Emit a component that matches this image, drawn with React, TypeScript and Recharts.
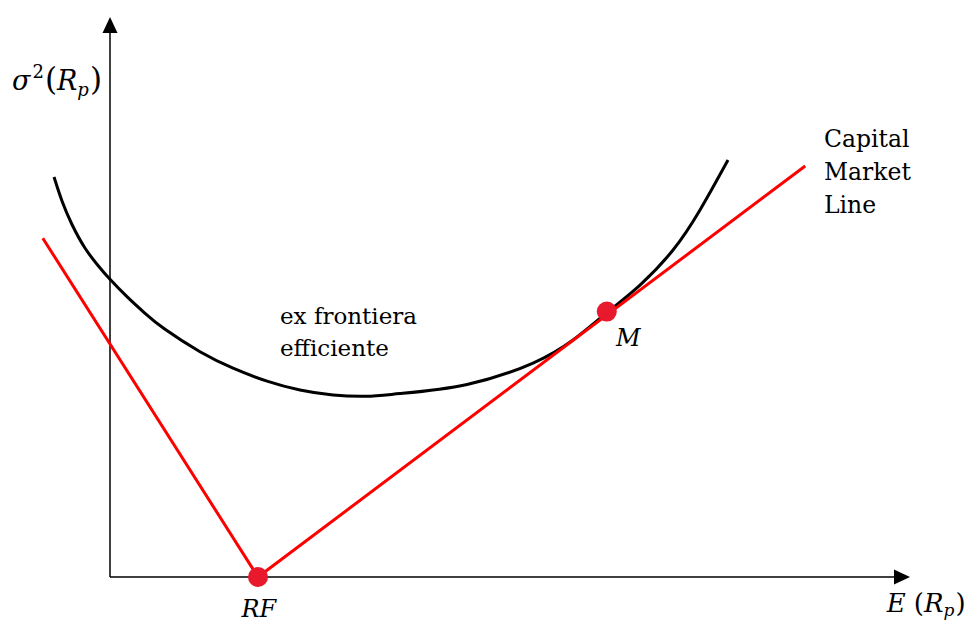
import React from 'react';
import { ComposedChart, Line, Scatter, XAxis, YAxis, ReferenceLine, ReferenceDot } from 'recharts';

// units: E(Rp) on x, sigma^2(Rp) on y, 0 at the corner of the axes, 100 at the arrow tips
const frontierReturn = [-7.0, -6.0, -4.75, -3.13, -1.5, 0, 2.25, 4.38, 6.88, 11.25, 15.38, 19.63, 23.75, 27.88, 32, 36.25, 44.63, 52.88, 57.88, 62.13, 66.25, 70.38, 73.75, 77.25];
const frontierVariance = [71.43, 67.14, 62.95, 58.75, 55.63, 53.16, 49.88, 47.09, 44.23, 40.23, 37.29, 34.98, 33.39, 32.5, 32.27, 32.75, 34.38, 38.21, 42.32, 47.23, 52.14, 58.39, 65.54, 74.46];

const cmlReturn = [-8.4, 18.5, 86.9];
const cmlVariance = [60.5, 0, 73.4];

const pointNames = ['RF', 'M'];
const pointReturn = [18.5, 62.1];
const pointVariance = [0, 47.4];

const frontier = frontierReturn.map((x, i) => ({ x, y: frontierVariance[i] }));
const cml = cmlReturn.map((x, i) => ({ x, y: cmlVariance[i] }));
const points = pointNames.map((name, i) => ({ name, x: pointReturn[i], y: pointVariance[i] }));

const RED = '#ff0000';
const DOT = '#e8192c';
const FONT = 'DejaVu Serif';

const AxisArrow = (props: any) => {
  const { x1, y1, x2, y2 } = props;
  const a = Math.atan2(y2 - y1, x2 - x1);
  const len = 16;
  const half = 7.5;
  const bx = x2 - len * Math.cos(a);
  const by = y2 - len * Math.sin(a);
  const nx = -Math.sin(a) * half;
  const ny = Math.cos(a) * half;
  return (
    <g>
      <line x1={x1} y1={y1} x2={bx} y2={by} stroke="#000" strokeWidth={1.5} />
      <polygon points={`${x2},${y2} ${bx + nx},${by + ny} ${bx - nx},${by - ny}`} fill="#000" />
    </g>
  );
};

const textAt = (render: (cx: number, cy: number) => React.ReactNode) => (p: any) => <g>{render(p.cx, p.cy)}</g>;

const App: React.FC = () => {
  return (
    <div style={{ position: 'absolute', left: 0, top: 0, background: '#fff' }}>
      <ComposedChart width={973} height={622} margin={{ top: 0, right: 0, bottom: 0, left: 0 }}>
        <XAxis type="number" dataKey="x" domain={[-13.75, 107.875]} hide />
        <YAxis type="number" dataKey="y" domain={[-8.04, 103.04]} hide />

        <ReferenceLine segment={[{ x: 0, y: 0 }, { x: 0, y: 100 }]} shape={AxisArrow} />
        <ReferenceLine segment={[{ x: 0, y: 0 }, { x: 100, y: 0 }]} shape={AxisArrow} />

        <Line data={frontier} dataKey="y" type="natural" stroke="#000" strokeWidth={3} dot={false} activeDot={false} isAnimationActive={false} />
        <Line data={cml} dataKey="y" type="linear" stroke={RED} strokeWidth={3} dot={false} activeDot={false} isAnimationActive={false} />
        <Scatter
          data={points}
          dataKey="y"
          isAnimationActive={false}
          shape={(p: any) => <circle cx={p.cx} cy={p.cy} r={10} fill={DOT} />}
        />

        <ReferenceDot
          x={-12.25}
          y={87.0}
          r={0}
          shape={textAt((cx, cy) => (
            <text x={cx} y={cy} fontFamily={FONT} fontSize={27} fill="#000">
              <tspan fontStyle="italic">σ</tspan>
              <tspan fontSize={18} dy={-12} dx={2}>2</tspan>
              <tspan fontSize={31} dy={12} dx={1}>(</tspan>
              <tspan fontStyle="italic">R</tspan>
              <tspan fontStyle="italic" fontSize={18} dy={6}>p</tspan>
              <tspan fontSize={31} dy={-6} dx={1}>)</tspan>
            </text>
          ))}
        />
        <ReferenceDot
          x={18.6}
          y={-7.2}
          r={0}
          shape={textAt((cx, cy) => (
            <text x={cx} y={cy} textAnchor="middle" fontFamily={FONT} fontSize={24} fontStyle="italic" fill="#000">RF</text>
          ))}
        />
        <ReferenceDot
          x={97.1}
          y={-6.3}
          r={0}
          shape={textAt((cx, cy) => (
            <text x={cx} y={cy} fontFamily={FONT} fontSize={26} fill="#000">
              <tspan fontStyle="italic">E</tspan>
              <tspan dx={8}>(</tspan>
              <tspan fontStyle="italic">R</tspan>
              <tspan fontStyle="italic" fontSize={17} dy={4}>p</tspan>
              <tspan dy={-4} dx={1}>)</tspan>
            </text>
          ))}
        />
        <ReferenceDot
          x={63.25}
          y={41.25}
          r={0}
          shape={textAt((cx, cy) => (
            <text x={cx} y={cy} fontFamily={FONT} fontSize={24} fontStyle="italic" fill="#000">M</text>
          ))}
        />
        <ReferenceDot
          x={89.25}
          y={76.8}
          r={0}
          shape={textAt((cx, cy) => (
            <text x={cx} y={cy} fontFamily={FONT} fontSize={23.5} fill="#000">
              <tspan x={cx}>Capital</tspan>
              <tspan x={cx} dy={33}>Market</tspan>
              <tspan x={cx} dy={33}>Line</tspan>
            </text>
          ))}
        />
        <ReferenceDot
          x={21.25}
          y={45.2}
          r={0}
          shape={textAt((cx, cy) => (
            <text x={cx} y={cy} fontFamily={FONT} fontSize={23} fill="#000">
              <tspan x={cx}>ex frontiera</tspan>
              <tspan x={cx} dy={32}>efficiente</tspan>
            </text>
          ))}
        />
      </ComposedChart>
    </div>
  );
};

export default App;
